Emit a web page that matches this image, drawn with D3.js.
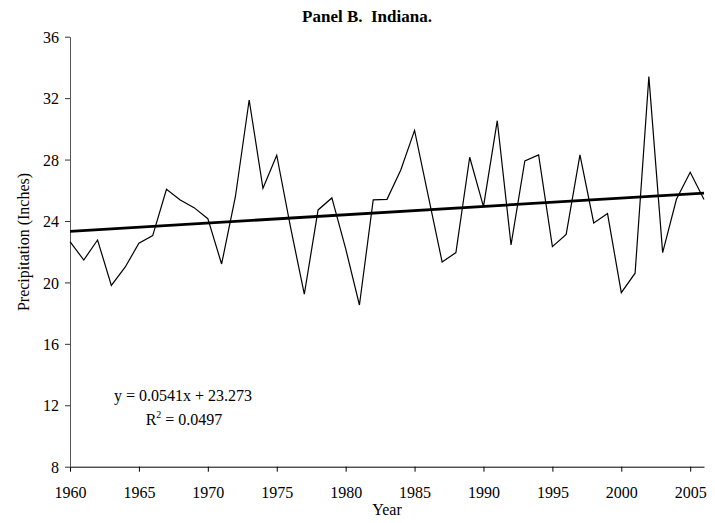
<!DOCTYPE html>
<html>
<head>
<meta charset="utf-8">
<script src="https://cdn.jsdelivr.net/npm/d3@7"></script>
<style>
  body { margin: 0; background: #fff; }
  text { font-family: "Liberation Serif", "Times New Roman", Times, serif; fill: #000; }
</style>
</head>
<body>
<svg id="chart" width="715" height="523"></svg>
<script>
const years = d3.range(1960, 2007);
const precipitation = [
  22.65, 21.46, 22.76, 19.81, 20.99, 22.55, 23.05, 26.06, 25.37, 24.87,
  24.15, 21.20, 25.58, 31.88, 26.13, 28.28, 23.60, 19.23, 24.72, 25.50,
  22.20, 18.53, 25.37, 25.41, 27.32, 29.90, 25.60, 21.33, 21.94, 28.15,
  24.93, 30.53, 22.44, 27.91, 28.30, 22.33, 23.13, 28.30, 23.87, 24.48,
  19.33, 20.60, 33.40, 21.94, 25.41, 27.17, 25.40
];
const yTicks = [8, 12, 16, 20, 24, 28, 32, 36];
const xTicks = [1960, 1965, 1970, 1975, 1980, 1985, 1990, 1995, 2000, 2005];
const trendSlope = 0.0541;
const trendIntercept = 23.273;
const equationText = "y = 0.0541x + 23.273";
const rSquaredText = "0.0497";
const titleText = "Panel B.  Indiana.";
const xLabel = "Year";
const yLabel = "Precipitation (Inches)";

const svg = d3.select("#chart");
const mLeft = 70, mRight = 704, mTop = 36.7, mBottom = 466.7;

const x = d3.scaleLinear().domain([1960, 2006]).range([mLeft, mRight]);
const y = d3.scaleLinear().domain([8, 36]).range([mBottom, mTop]);

// Axes
const xAxis = svg.append("g")
  .attr("transform", `translate(0,${mBottom})`)
  .call(d3.axisBottom(x).tickValues(xTicks).tickFormat(d3.format("d")).tickSize(5).tickSizeOuter(0));
xAxis.select(".domain").attr("stroke", "#000");
xAxis.selectAll(".tick line").attr("stroke", "#000");
xAxis.selectAll(".tick text")
  .attr("font-size", "16px")
  .attr("dy", null)
  .attr("y", 31);

const yAxis = svg.append("g")
  .attr("transform", `translate(${mLeft},0)`)
  .call(d3.axisLeft(y).tickValues(yTicks).tickFormat(d3.format("d")).tickSize(5).tickSizeOuter(0));
yAxis.select(".domain").attr("stroke", "#555");
yAxis.selectAll(".tick line").attr("stroke", "#333");
yAxis.selectAll(".tick text")
  .attr("font-size", "16px")
  .attr("x", -11)
  .attr("dy", "0.35em");

// Data line
const line = d3.line().x((d, i) => x(years[i])).y(d => y(d));
svg.append("path")
  .datum(precipitation)
  .attr("fill", "none")
  .attr("stroke", "#000")
  .attr("stroke-width", 1.2)
  .attr("stroke-linejoin", "miter")
  .attr("d", line);

// Trend line (x index: 1960 -> 1)
const trendYears = [1960, 2006];
svg.append("path")
  .datum(trendYears)
  .attr("fill", "none")
  .attr("stroke", "#000")
  .attr("stroke-width", 2.8)
  .attr("d", d3.line().x(d => x(d)).y(d => y(trendSlope * (d - 1959) + trendIntercept)));

// Title
svg.append("text")
  .attr("x", 367).attr("y", 22)
  .attr("text-anchor", "middle")
  .attr("font-size", "17px")
  .attr("font-weight", "bold")
  .style("white-space", "pre")
  .attr("xml:space", "preserve")
  .text(titleText);

// Axis labels
svg.append("text")
  .attr("x", (mLeft + mRight) / 2).attr("y", 515)
  .attr("text-anchor", "middle")
  .attr("font-size", "16px")
  .text(xLabel);

svg.append("text")
  .attr("transform", "translate(29,242) rotate(-90)")
  .attr("text-anchor", "middle")
  .attr("font-size", "16px")
  .text(yLabel);

// Equation
svg.append("text")
  .attr("x", 183).attr("y", 401)
  .attr("text-anchor", "middle")
  .attr("font-size", "16px")
  .text(equationText);

const r2 = svg.append("text")
  .attr("x", 184).attr("y", 425)
  .attr("text-anchor", "middle")
  .attr("font-size", "16px");
r2.append("tspan").text("R");
r2.append("tspan").attr("font-size", "10px").attr("dy", "-7").text("2");
r2.append("tspan").attr("dy", "7").text(" = " + rSquaredText);
</script>
</body>
</html>
